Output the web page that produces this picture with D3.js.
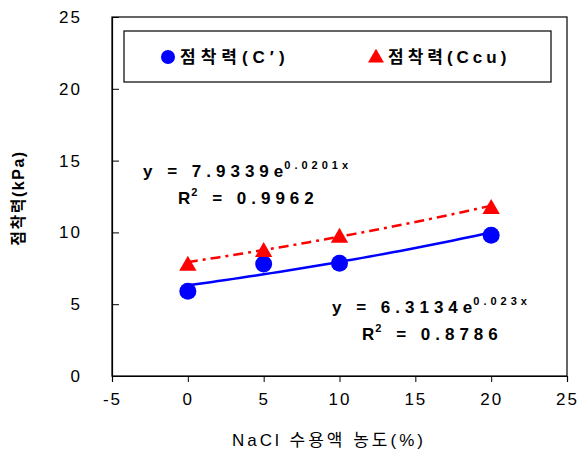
<!DOCTYPE html>
<html>
<head>
<meta charset="utf-8">
<script src="https://cdn.jsdelivr.net/npm/d3@7"></script>
<style>
  body { margin: 0; background: #fff; }
  text { font-family: "Liberation Sans", "Noto Sans CJK KR", sans-serif; }
</style>
</head>
<body>
<div id="chart"></div>
<script>
// data
var concentration = [0, 5, 10, 20];
var cPrime = [5.9, 7.8, 7.85, 9.8];
var cCu = [7.75, 8.7, 9.7, 11.7];
var xTicks = [-5, 0, 5, 10, 15, 20, 25];
var yTicks = [0, 5, 10, 15, 20, 25];
// exponential trendlines y = a * e^(b x)
var fitC = { a: 6.3134, b: 0.023, r2: "0.8786" };
var fitCu = { a: 7.9339, b: 0.0201, r2: "0.9962" };

var svgWidth = 580, svgHeight = 451;
var margin = { top: 17, right: 13, bottom: 75, left: 112 };
var width = svgWidth - margin.left - margin.right;
var height = svgHeight - margin.top - margin.bottom;

var svg = d3.select("#chart").append("svg")
    .attr("width", svgWidth)
    .attr("height", svgHeight);

var chartGroup = svg.append("g")
    .attr("transform", `translate(${margin.left}, ${margin.top})`);

var xScale = d3.scaleLinear().domain([-5, 25]).range([0, width]);
var yScale = d3.scaleLinear().domain([0, 25]).range([height, 0]);

// frame
chartGroup.append("rect")
    .attr("width", width).attr("height", height)
    .attr("fill", "none").attr("stroke", "#000").attr("stroke-width", 1.2);

// axes (plain hyphen for negatives, like the original)
var fmt = d => String(d);
var bottomAxis = d3.axisBottom(xScale).tickValues(xTicks).tickFormat(fmt).tickSize(6).tickPadding(8);
var leftAxis = d3.axisLeft(yScale).tickValues(yTicks).tickFormat(fmt).tickSize(-7).tickPadding(30);

var gx = chartGroup.append("g")
    .attr("transform", `translate(0, ${height})`)
    .call(bottomAxis);
var gy = chartGroup.append("g").call(leftAxis);

[gx, gy].forEach(function (g) {
    g.select(".domain").attr("stroke", "#000").attr("stroke-width", 1.2);
    g.selectAll(".tick line").attr("stroke", "#000");
    g.selectAll(".tick text")
        .attr("fill", "#000")
        .style("font-size", "17px")
        .style("letter-spacing", "2px");
});
gx.selectAll(".tick text").attr("dy", "0.9em");

// trendlines
function trend(fit) {
    return d3.range(0, 20.01, 0.5).map(x => [x, fit.a * Math.exp(fit.b * x)]);
}
var line = d3.line().x(d => xScale(d[0])).y(d => yScale(d[1]));

chartGroup.append("path")
    .datum(trend(fitC))
    .attr("d", line)
    .attr("fill", "none").attr("stroke", "#0000ff").attr("stroke-width", 2.5);

chartGroup.append("path")
    .datum(trend(fitCu))
    .attr("d", line)
    .attr("fill", "none").attr("stroke", "#ff0000").attr("stroke-width", 2.5)
    .attr("stroke-dasharray", "10,5,3,5");

// points
chartGroup.selectAll("circle.c")
    .data(concentration)
    .enter().append("circle")
    .attr("class", "c")
    .attr("cx", (d, i) => xScale(d))
    .attr("cy", (d, i) => yScale(cPrime[i]))
    .attr("r", 8.5)
    .attr("fill", "#0000ff");

var tri = d3.symbol().type(d3.symbolTriangle).size(130);
chartGroup.selectAll("path.cu")
    .data(concentration)
    .enter().append("path")
    .attr("class", "cu")
    .attr("d", tri)
    .attr("transform", (d, i) => `translate(${xScale(d)}, ${yScale(cCu[i]) + 1})`)
    .attr("fill", "#ff0000");

// equations
function equation(x, y, fit, expText, r2x) {
    var t = chartGroup.append("text")
        .attr("x", x).attr("y", y)
        .style("font-size", "17px").style("font-weight", "bold")
        .style("letter-spacing", "5px");
    t.append("tspan").text("y = " + fit.a.toFixed(4) + "e");
    t.append("tspan").attr("dx", -4).attr("dy", -8).style("font-size", "11px")
        .style("letter-spacing", "4px").text(expText);
    var r = chartGroup.append("text")
        .attr("x", r2x).attr("y", y + 27)
        .style("font-size", "17px").style("font-weight", "bold")
        .style("letter-spacing", "5px");
    r.append("tspan").style("letter-spacing", "1px").text("R");
    r.append("tspan").attr("dy", -8).style("font-size", "11px").text("2");
    r.append("tspan").attr("dy", 8).text(" = " + fit.r2);
}
equation(31, 160, fitCu, "0.0201x", 66);
equation(220, 296, fitC, "0.023x", 250);

// legend
var legend = chartGroup.append("g").attr("transform", "translate(12, 14)");
legend.append("rect")
    .attr("width", 427).attr("height", 51)
    .attr("fill", "#fff").attr("stroke", "#000").attr("stroke-width", 1.2);
legend.append("circle").attr("cx", 44).attr("cy", 26).attr("r", 7).attr("fill", "#0000ff");
legend.append("text").attr("x", 56).attr("y", 32)
    .style("font-size", "17px").style("font-weight", "bold").style("letter-spacing", "5px")
    .text("점착력(C′)");
legend.append("path").attr("d", d3.symbol().type(d3.symbolTriangle).size(110))
    .attr("transform", "translate(252, 27)").attr("fill", "#ff0000");
legend.append("text").attr("x", 264).attr("y", 32)
    .style("font-size", "17px").style("font-weight", "bold").style("letter-spacing", "4px")
    .text("점착력(Ccu)");

// axis titles
svg.append("text")
    .attr("x", 329).attr("y", 446)
    .attr("text-anchor", "middle")
    .style("font-size", "17px").style("letter-spacing", "3px")
    .text("NaCl 수용액 농도(%)");

svg.append("text")
    .attr("transform", "translate(24, 198) rotate(-90)")
    .attr("text-anchor", "middle")
    .style("font-size", "16px").style("font-weight", "bold").style("letter-spacing", "1.5px")
    .text("점착력(kPa)");
</script>
</body>
</html>
